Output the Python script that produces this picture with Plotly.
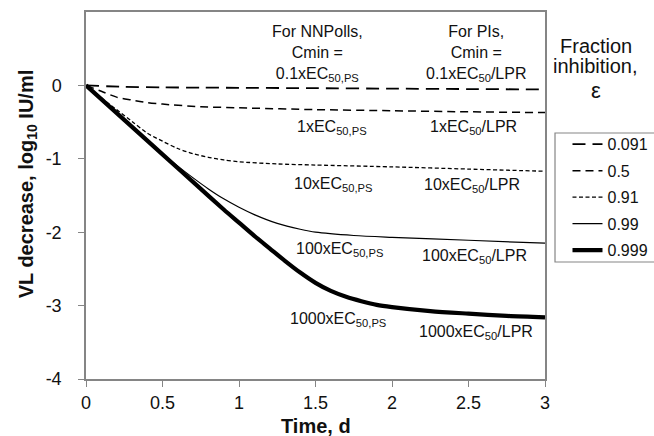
import plotly.graph_objects as go

# ---- data ----
t_a = [0, 0.25, 0.5, 0.75, 1.0, 1.5, 2.0, 2.5, 3.0]
v_0091 = [0, -0.02, -0.027, -0.03, -0.033, -0.038, -0.044, -0.05, -0.055]

t_b = [0, 0.1, 0.2, 0.3, 0.4, 0.5, 0.75, 1.0, 1.5, 2.0, 2.5, 3.0]
v_05 = [0, -0.08, -0.16, -0.2, -0.235, -0.255, -0.29, -0.305, -0.33, -0.345, -0.36, -0.37]

t_c = [0, 0.1, 0.2, 0.3, 0.4, 0.5, 0.6, 0.7, 0.8, 0.9, 1.0, 1.25, 1.5, 2.0, 2.5, 3.0]
v_091 = [0, -0.17, -0.33, -0.49, -0.65, -0.76, -0.86, -0.93, -0.98, -1.015, -1.04, -1.07, -1.085, -1.11, -1.14, -1.17]

t_d = [0, 0.25, 0.5, 0.6, 0.7, 0.8, 0.9, 1.0, 1.1, 1.25, 1.4, 1.5, 1.75, 2.0, 2.5, 3.0]
v_099 = [0, -0.47, -0.93, -1.10, -1.26, -1.41, -1.545, -1.66, -1.76, -1.88, -1.96, -2.0, -2.045, -2.07, -2.11, -2.15]

t_e = [0, 0.25, 0.5, 0.75, 0.9, 1.0, 1.1, 1.2, 1.3, 1.4, 1.5, 1.6, 1.7, 1.8, 1.9, 2.0, 2.25, 2.5, 2.75, 3.0]
v_0999 = [0, -0.47, -0.94, -1.41, -1.69, -1.87, -2.05, -2.22, -2.39, -2.55, -2.69, -2.80, -2.88, -2.94, -2.99, -3.02, -3.075, -3.11, -3.14, -3.16]

series_names = ["0.091", "0.5", "0.91", "0.99", "0.999"]
x_ticks = [0, 0.5, 1, 1.5, 2, 2.5, 3]
x_tick_text = ["0", "0.5", "1", "1.5", "2", "2.5", "3"]
y_ticks = [-4, -3, -2, -1, 0]
y_tick_text = ["-4", "-3", "-2", "-1", "0"]

x_title = "Time, d"
y_title = "VL decrease, log<sub>10</sub> IU/ml"

labels_ps = ["1xEC<sub>50,PS</sub>", "10xEC<sub>50,PS</sub>", "100xEC<sub>50,PS</sub>", "1000xEC<sub>50,PS</sub>"]
labels_ps_pos = [(1.61, -0.57), (1.62, -1.355), (1.66, -2.235), (1.65, -3.19)]
labels_lpr = ["1xEC<sub>50</sub>/LPR", "10xEC<sub>50</sub>/LPR", "100xEC<sub>50</sub>/LPR", "1000xEC<sub>50</sub>/LPR"]
labels_lpr_pos = [(2.53, -0.57), (2.52, -1.365), (2.54, -2.33), (2.55, -3.36)]

FONT = "Liberation Sans, Arial, sans-serif"
AX = "#858585"
TXT = "#111111"

fig = go.Figure()
styles = [
    dict(width=1.8, dash="13px,7px"),
    dict(width=1.5, dash="8px,5px"),
    dict(width=1.3, dash="4px,2.5px"),
    dict(width=1.2, dash="solid"),
    dict(width=4.2, dash="solid"),
]
data = [(t_a, v_0091), (t_b, v_05), (t_c, v_091), (t_d, v_099), (t_e, v_0999)]
for (tx, vy), name, st in zip(data, series_names, styles):
    fig.add_trace(go.Scatter(
        x=tx, y=vy, mode="lines", name=name, legendgroup=name,
        line=dict(color="black", shape="spline", smoothing=0.8, **st),
    ))

ann = []
ann.append(dict(x=1.51, y=0.43, xref="x", yref="y",
                text="For NNPolls,<br>Cmin =<br>0.1xEC<sub>50,PS</sub>",
                showarrow=False, font=dict(size=16, color=TXT, family=FONT),
                xanchor="center", yanchor="middle", align="center"))
ann.append(dict(x=2.55, y=0.43, xref="x", yref="y",
                text="For PIs,<br>Cmin =<br>0.1xEC<sub>50</sub>/LPR",
                showarrow=False, font=dict(size=16, color=TXT, family=FONT),
                xanchor="center", yanchor="middle", align="center"))
for txt, (px, py) in list(zip(labels_ps, labels_ps_pos)) + list(zip(labels_lpr, labels_lpr_pos)):
    ann.append(dict(x=px, y=py, xref="x", yref="y", text=txt, showarrow=False,
                    font=dict(size=16, color=TXT, family=FONT),
                    xanchor="center", yanchor="middle"))
# legend heading
ann.append(dict(x=1.111, y=0.906, xref="paper", yref="paper", text="Fraction", showarrow=False,
                font=dict(size=20, color=TXT, family=FONT), xanchor="center", yanchor="middle"))
ann.append(dict(x=1.111, y=0.853, xref="paper", yref="paper", text="inhibition,", showarrow=False,
                font=dict(size=20, color=TXT, family=FONT), xanchor="center", yanchor="middle"))
ann.append(dict(x=1.111, y=0.785, xref="paper", yref="paper", text="ε", showarrow=False,
                font=dict(size=22, color=TXT, family=FONT), xanchor="center", yanchor="middle"))
# axis titles
ann.append(dict(x=0.5, y=-0.128, xref="paper", yref="paper", text="<b>" + x_title + "</b>",
                showarrow=False, font=dict(size=20, color=TXT, family=FONT),
                xanchor="center", yanchor="middle"))
ann.append(dict(x=-0.128, y=0.531, xref="paper", yref="paper", text="<b>" + y_title + "</b>",
                showarrow=False, textangle=-90, font=dict(size=20, color=TXT, family=FONT),
                xanchor="center", yanchor="middle"))

fig.update_layout(
    width=654, height=436,
    margin=dict(l=86, r=109, t=12, b=57, autoexpand=False),
    plot_bgcolor="white", paper_bgcolor="white",
    font=dict(family=FONT, color=TXT),
    showlegend=True,
    legend=dict(x=1.049, y=0.686, xanchor="left", yanchor="top",
                font=dict(size=16, family=FONT, color=TXT),
                bgcolor="rgba(0,0,0,0)", borderwidth=0,
                traceorder="grouped", tracegroupgap=2.7),
    annotations=ann,
    shapes=[dict(type="rect", xref="paper", yref="paper",
                 x0=1.0218, x1=1.4, y0=0.3188, y1=0.6703,
                 line=dict(color=AX, width=1.2), fillcolor="rgba(0,0,0,0)", layer="below")],
    xaxis=dict(range=[0, 3], tickvals=x_ticks, ticktext=x_tick_text, ticks="outside", ticklen=6,
               tickcolor=AX, tickwidth=1.3, showline=True, linecolor=AX, linewidth=1.5, mirror=True,
               showgrid=False, zeroline=False, tickfont=dict(size=18, family=FONT, color=TXT),
               ticklabelstandoff=1, automargin=False),
    yaxis=dict(range=[-4, 1], tickvals=y_ticks, ticktext=y_tick_text, ticks="outside", ticklen=6,
               tickcolor=AX, tickwidth=1.3, showline=True, linecolor=AX, linewidth=1.5, mirror=True,
               showgrid=False, zeroline=False, tickfont=dict(size=18, family=FONT, color=TXT),
               ticklabelstandoff=13, automargin=False),
)

fig.write_html("out.html", config={"displayModeBar": False},
               post_script="document.body.style.margin='0';document.body.style.overflow='hidden';")
